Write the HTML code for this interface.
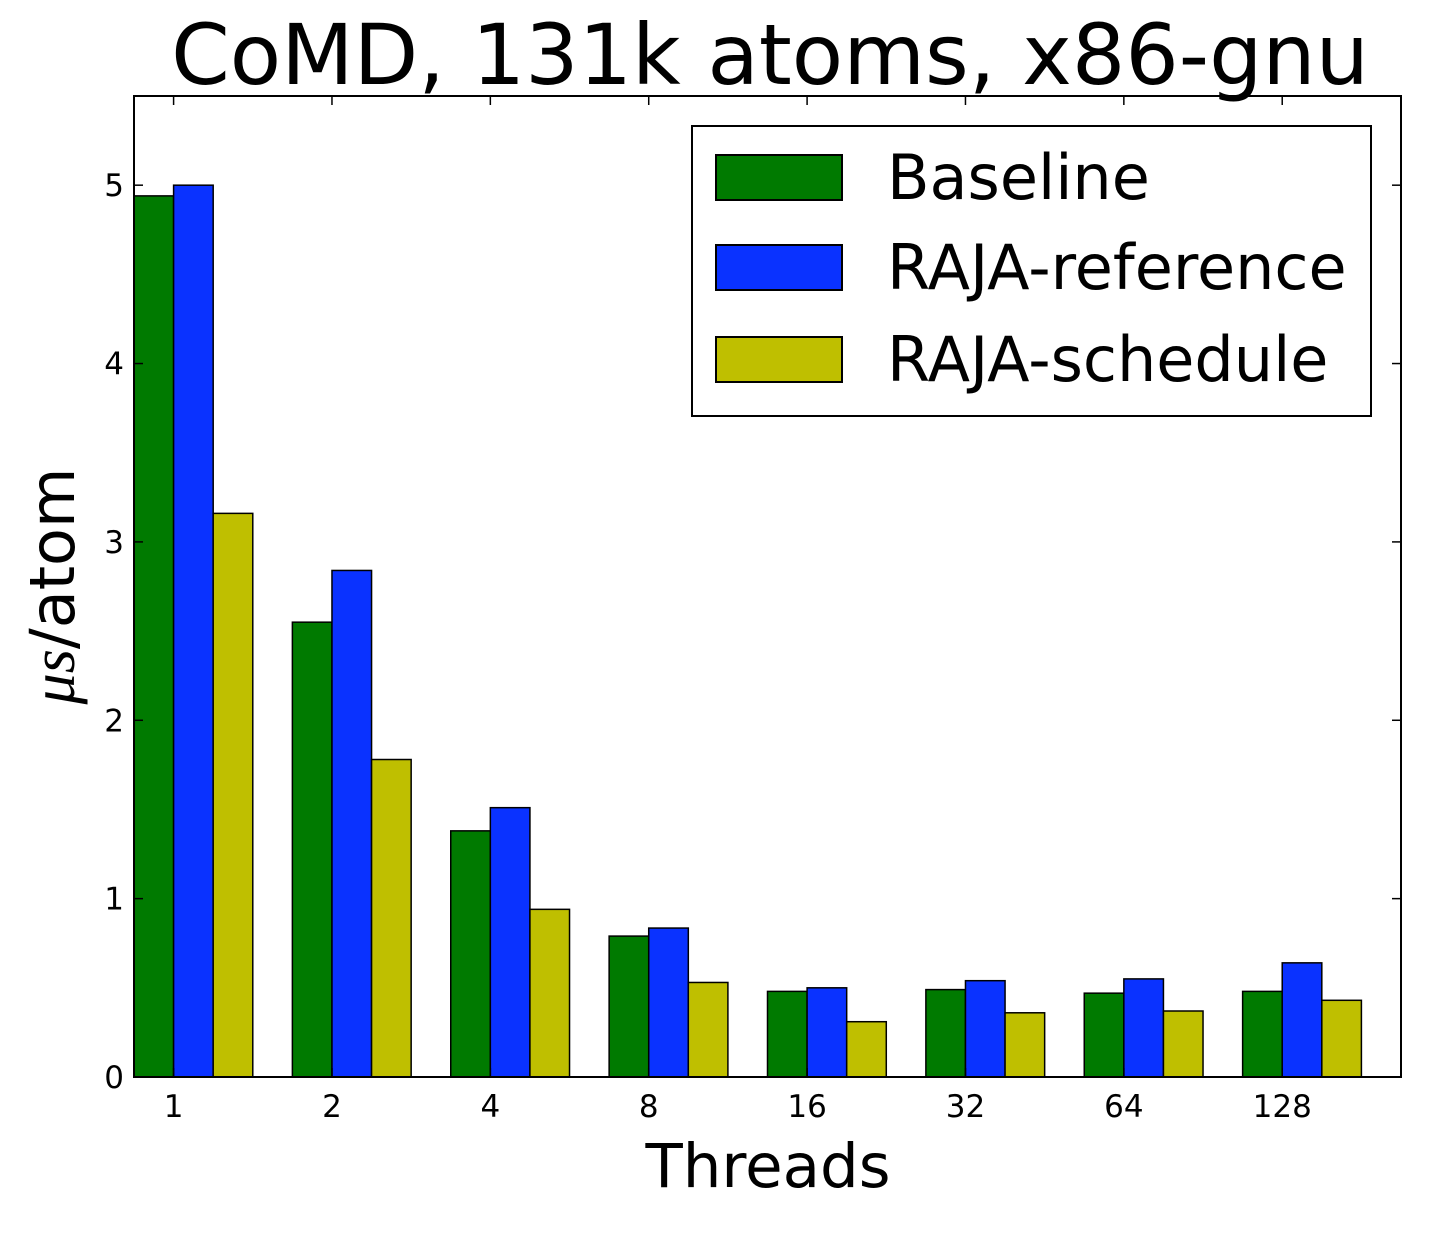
<!DOCTYPE html>
<html><head><meta charset="utf-8"><style>
body{margin:0;background:#fff;}
svg text{font-family:"DejaVu Sans","Liberation Sans",sans-serif;fill:#000;}
</style></head><body>
<svg id="chart" width="1430" height="1230" xmlns="http://www.w3.org/2000/svg">
<text x="770" y="84" font-size="84" text-anchor="middle">CoMD, 131k atoms, x86-gnu</text>
<g id="bars"></g>
<g id="axes"></g>
<text x="768" y="1187" font-size="61" text-anchor="middle">Threads</text>
<text transform="translate(74,586) rotate(-90)" font-size="62" text-anchor="middle"><tspan font-style="italic" font-family="Liberation Serif, serif">μs</tspan>/atom</text>
<g>
<rect x="692" y="126" width="679" height="290" fill="#fff" stroke="#000" stroke-width="2"/>
<rect x="716" y="155" width="126" height="45" fill="#007a00" stroke="#000" stroke-width="2"/>
<text x="887" y="199" font-size="62">Baseline</text>
<rect x="716" y="245" width="126" height="45" fill="#0a32ff" stroke="#000" stroke-width="2"/>
<text x="887" y="289" font-size="62">RAJA-reference</text>
<rect x="716" y="337" width="126" height="45" fill="#bfbf00" stroke="#000" stroke-width="2"/>
<text x="887" y="381" font-size="62">RAJA-schedule</text>
</g>
</svg>
<script>
const categories = ["1","2","4","8","16","32","64","128"];
const baseline = [4.94, 2.55, 1.38, 0.79, 0.48, 0.49, 0.47, 0.48];
const rajaReference = [5.0, 2.84, 1.51, 0.835, 0.50, 0.54, 0.55, 0.64];
const rajaSchedule = [3.16, 1.78, 0.94, 0.53, 0.31, 0.36, 0.37, 0.43];
const yTicks = [0, 1, 2, 3, 4, 5];

const L = 134, R = 1401, T = 96, B = 1077;
const xMax = 8, yMax = 5.5;
function xs(v){ return L + (v / xMax) * (R - L); }
function ys(v){ return B - (v / yMax) * (B - T); }
const NS = "http://www.w3.org/2000/svg";
function mk(tag, attrs, parent){
  const e = document.createElementNS(NS, tag);
  for (const k in attrs) e.setAttribute(k, attrs[k]);
  parent.appendChild(e); return e;
}
const barsG = document.getElementById('bars');
const series = [
  {name:'baseline', vals: baseline, color:'#007a00', off:0},
  {name:'raja-reference', vals: rajaReference, color:'#0a32ff', off:0.25},
  {name:'raja-schedule', vals: rajaSchedule, color:'#bfbf00', off:0.5}
];
series.forEach(s => {
  s.vals.forEach((v, i) => {
    const x0 = xs(i + s.off), x1 = xs(i + s.off + 0.25);
    const r = mk('rect', {x:x0, y:ys(v), width:x1-x0, height:ys(0)-ys(v), fill:s.color, stroke:'#000', 'stroke-width':1.5}, barsG);
    
    
  });
});
const ax = document.getElementById('axes');
const frame = mk('rect', {x:L, y:T, width:R-L, height:B-T, fill:'none', stroke:'#000', 'stroke-width':2}, ax);


yTicks.forEach(t => {
  const y = ys(t);
  mk('line', {x1:L, x2:L+9, y1:y, y2:y, stroke:'#000', 'stroke-width':1.5}, ax);
  mk('line', {x1:R-9, x2:R, y1:y, y2:y, stroke:'#000', 'stroke-width':1.5}, ax);
  const tx = mk('text', {x:L-10, y:y+11, 'font-size':31, 'text-anchor':'end'}, ax);
  tx.textContent = t;
  
  
});
categories.forEach((c, i) => {
  const x = xs(i + 0.25);
  mk('line', {x1:x, x2:x, y1:B, y2:B-9, stroke:'#000', 'stroke-width':1.5}, ax);
  mk('line', {x1:x, x2:x, y1:T, y2:T+9, stroke:'#000', 'stroke-width':1.5}, ax);
  const tx = mk('text', {x:x, y:B+40, 'font-size':31, 'text-anchor':'middle'}, ax);
  tx.textContent = c;
  
  
});
</script>
</body></html>
